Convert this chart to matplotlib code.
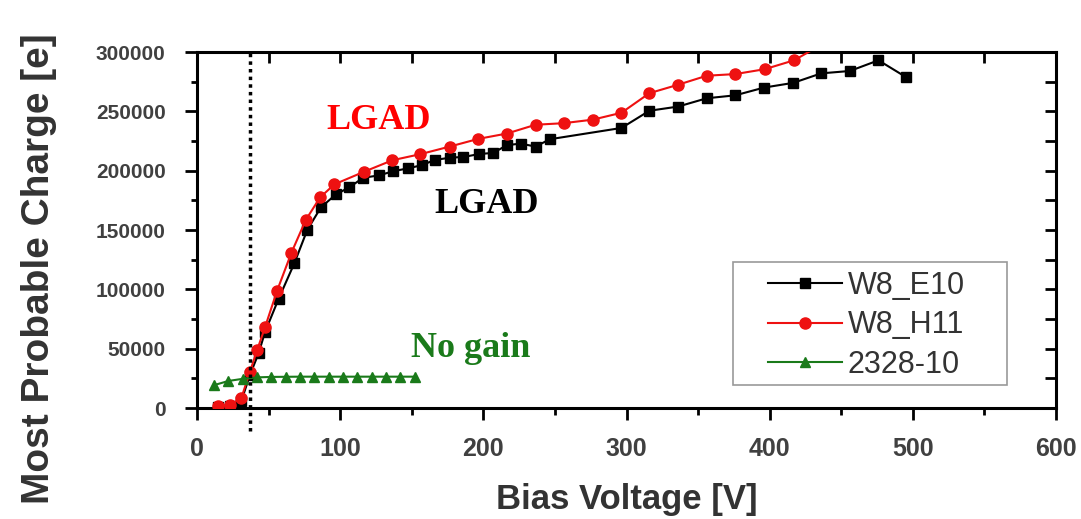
import matplotlib
matplotlib.use('Agg')
import matplotlib.pyplot as plt
from matplotlib.patches import Rectangle

# W8_E10 (black squares)
e10_v = [15, 23, 31, 37, 43, 47.5, 57, 68, 77, 86.5, 97, 106.5, 116, 127, 137, 147.5, 157, 166, 177, 186,
         197, 207, 216.5, 226, 236.5, 246.5, 296.5, 316, 336, 356, 376, 396, 416.5, 436, 456, 476, 495]
e10_q = [800, 1500, 6000, 28000, 46000, 64000, 92000, 122000, 150000, 169000, 180000, 186000, 194000, 196000,
         199500, 202000, 204600, 209000, 211000, 211500, 214000, 215000, 221500, 222800, 220300, 226500,
         236000, 250500, 254000, 261000, 263500, 270000, 274000, 282000, 284000, 293000, 279000]

# W8_H11 (red circles)
h11_v = [15, 23, 31, 37, 42, 47.5, 56, 66, 76, 86, 96, 116.5, 136.5, 156, 176.5, 196.5, 216.5, 236.5, 256,
         276.5, 296.5, 316, 336, 356, 376, 396.5, 417, 436]
h11_q = [2000, 2500, 8500, 30600, 48800, 68000, 99000, 131000, 158500, 177500, 188500, 199000, 208800, 213900,
         220300, 226800, 231300, 238700, 240000, 243000, 248800, 265300, 272400, 280000, 281400, 285500, 293000,
         306000]

# 2328-10 (green triangles)
g_v = [12, 22, 32, 42, 52, 62, 72, 82, 92, 102, 112, 122, 132, 142, 152]
g_q = [19300, 22800, 24600, 25800, 26200, 26300, 26400, 26400, 26400, 26400, 26400, 26400, 26400, 26400, 26400]

depletion_v = 37

x_ticks = [0, 100, 200, 300, 400, 500, 600]
y_ticks = [0, 50000, 100000, 150000, 200000, 250000, 300000]

plt.rcParams['font.family'] = ['Liberation Sans', 'DejaVu Sans']

fig = plt.figure(figsize=(10.81, 5.19), dpi=100)
ax = fig.add_axes([197 / 1081, 111 / 519, 859 / 1081, 356 / 519])

ax.plot(e10_v, e10_q, '-s', color='black', lw=1.5, markersize=6.5, label='W8_E10', zorder=3)
ax.plot(h11_v, h11_q, '-o', color='#ee1111', lw=1.5, markersize=8, label='W8_H11', zorder=4)
ax.plot(g_v, g_q, '-^', color='#1a7a1a', lw=1.5, markersize=7.5, label='2328-10', zorder=5)

# dotted marker line, runs past the bottom spine
ax.plot([depletion_v, depletion_v], [-19000, 300000], ls=(0, (1, 1.2)), color='black', lw=2.5,
        clip_on=False, zorder=6)

ax.set_xlim(0, 600)
ax.set_ylim(0, 300000)
ax.set_xticks(x_ticks)
ax.set_xticks(range(0, 601, 50), minor=True)
ax.set_yticks(y_ticks)
ax.set_yticks(range(0, 300001, 25000), minor=True)
ax.set_xticklabels([str(t) for t in x_ticks])
ax.set_yticklabels([str(t) for t in y_ticks])

ax.tick_params(axis='both', which='both', direction='out', width=2, colors='black', labelcolor='#404040')
ax.tick_params(axis='x', which='major', length=8.6, pad=12, labelsize=18)
ax.tick_params(axis='x', which='minor', length=5)
ax.tick_params(axis='y', which='major', length=8.6, pad=14, labelsize=15)
ax.tick_params(axis='y', which='minor', length=4)
for lab in ax.get_xticklabels() + ax.get_yticklabels():
    lab.set_fontweight('bold')

for sp in ax.spines.values():
    sp.set_linewidth(2.2)

# inward ticks on top and right
top = ax.secondary_xaxis('top')
top.set_xticks(range(0, 601, 50))
top.tick_params(direction='in', length=8, width=2, labeltop=False)
right = ax.secondary_yaxis('right')
right.set_yticks(range(0, 300001, 25000))
right.tick_params(direction='in', length=8, width=2, labelright=False)

ax.set_xlabel('Bias Voltage [V]', fontsize=25, fontweight='bold', color='#333333')
ax.set_ylabel('Most Probable Charge [e]', fontsize=28, fontweight='bold', color='#333333')
ax.xaxis.set_label_coords(0.5, -0.21)
ax.yaxis.set_label_coords(-0.163, 0.39)

ax.text(127, 242500, 'LGAD', color='red', fontsize=26, fontweight='bold', family='Liberation Serif',
        ha='center', va='center')
ax.text(202, 171800, 'LGAD', color='black', fontsize=26, fontweight='bold', family='Liberation Serif',
        ha='center', va='center')
ax.text(191, 50500, 'No gain', color='#1a7a1a', fontsize=26, fontweight='bold', family='Liberation Serif',
        ha='center', va='center')

# legend box is wider than its content in the original
ax.add_patch(Rectangle((0.624, 0.0646), 0.319, 0.3454, transform=ax.transAxes, facecolor='white',
                       edgecolor='#999999', lw=1.2, zorder=7))
leg = ax.legend(loc='upper left', bbox_to_anchor=(0.665, 0.385), fontsize=22, handlelength=2.4,
                handletextpad=0.2, labelspacing=0.31, borderpad=0, frameon=False, borderaxespad=0)
leg.set_zorder(8)
for t in leg.get_texts():
    t.set_color('#333333')

fig.savefig('out.png', dpi=100)
